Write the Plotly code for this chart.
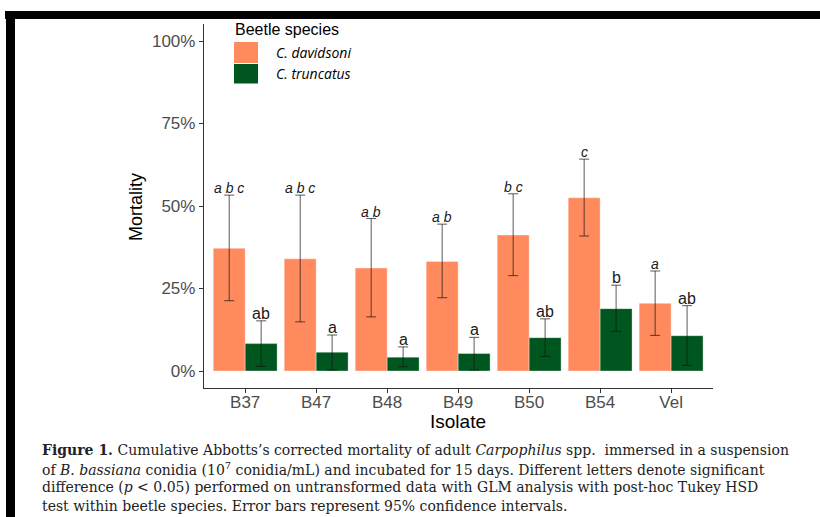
import plotly.graph_objects as go

W, H = 820, 517

isolates = ["B37", "B47", "B48", "B49", "B50", "B54", "Vel"]
davidsoni_mean = [37.2, 34.0, 31.2, 33.2, 41.2, 52.5, 20.5]
davidsoni_upper = [53.3, 53.3, 46.2, 44.5, 53.7, 64.2, 30.3]
davidsoni_lower = [21.3, 14.9, 16.4, 22.2, 28.9, 40.9, 10.8]
truncatus_mean = [8.3, 5.7, 4.2, 5.3, 10.1, 18.9, 10.7]
truncatus_upper = [15.2, 10.9, 7.3, 10.2, 15.8, 26.0, 19.8]
truncatus_lower = [1.4, 0.3, 1.3, 0.3, 4.4, 12.0, 1.7]
davidsoni_letters = ["abc", "abc", "ab", "ab", "bc", "c", "a"]
truncatus_letters = ["ab", "a", "a", "a", "ab", "b", "ab"]
y_ticks = [0, 25, 50, 75, 100]
y_tick_labels = ["0%", "25%", "50%", "75%", "100%"]

ORANGE = "#FF8A5E"
GREEN = "#00561F"
ERR = "rgba(20,20,20,0.7)"

xs = list(range(len(isolates)))

fig = go.Figure()
fig.add_trace(go.Bar(
    x=xs, y=davidsoni_mean, name="C. davidsoni",
    marker=dict(color=ORANGE, line=dict(color="rgba(255,255,255,0.45)", width=0.8)),
    error_y=dict(type="data", symmetric=False,
                 array=[u - m for u, m in zip(davidsoni_upper, davidsoni_mean)],
                 arrayminus=[m - l for m, l in zip(davidsoni_mean, davidsoni_lower)],
                 color=ERR, thickness=1, width=5),
))
fig.add_trace(go.Bar(
    x=xs, y=truncatus_mean, name="C. truncatus",
    marker=dict(color=GREEN, line=dict(color="rgba(255,255,255,0.45)", width=0.8)),
    error_y=dict(type="data", symmetric=False,
                 array=[u - m for u, m in zip(truncatus_upper, truncatus_mean)],
                 arrayminus=[m - l for m, l in zip(truncatus_mean, truncatus_lower)],
                 color=ERR, thickness=1, width=5),
))

def px_x(p):
    return p / W

def px_y(p):
    return 1 - p / H

annotations = []
for i in xs:
    annotations.append(dict(
        x=i - 0.225, y=davidsoni_upper[i], xref="x", yref="y",
        text=" ".join(davidsoni_letters[i]), showarrow=False,
        xanchor="center", yanchor="bottom", yshift=-3,
        font=dict(family="Liberation Sans", size=14, color="#1a1a1a", style="italic"),
    ))
    annotations.append(dict(
        x=i + 0.225, y=truncatus_upper[i], xref="x", yref="y",
        text=truncatus_letters[i], showarrow=False,
        xanchor="center", yanchor="bottom", yshift=-3,
        font=dict(family="Liberation Sans", size=16, color="#1a1a1a"),
    ))

def paper_text(x, y, text, font, xanchor="center", **kw):
    annotations.append(dict(x=px_x(x), y=px_y(y), xref="paper", yref="paper",
                            text=text, showarrow=False, xanchor=xanchor,
                            yanchor="middle", font=font, **kw))

# axis titles
paper_text(136, 207, "Mortality", dict(family="Liberation Sans", size=18, color="#000"),
           textangle=-90)
paper_text(458, 421, "Isolate", dict(family="Liberation Sans", size=19, color="#000"))

# legend
paper_text(233, 30, "Beetle species", dict(family="Liberation Sans", size=16, color="#000"),
           xanchor="left")
paper_text(274, 52.5, "C. davidsoni",
           dict(family="Open Sans", size=14, color="#000", style="italic"), xanchor="left")
paper_text(274, 73.5, "C. truncatus",
           dict(family="Open Sans", size=14, color="#000", style="italic"), xanchor="left")

# caption
caption_lines = [
    "<b>Figure 1.</b> Cumulative Abbotts\u2019s corrected mortality of adult <i>Carpophilus</i> spp.  immersed in a suspension",
    "of <i>B. bassiana</i> conidia (10<sup>7</sup> conidia/mL) and incubated for 15 days. Different letters denote significant",
    "difference (<i>p</i> &lt; 0.05) performed on untransformed data with GLM analysis with post-hoc Tukey HSD",
    "test within beetle species. Error bars represent 95% confidence intervals.",
]
for k, line in enumerate(caption_lines):
    paper_text(40, 450 + 18.5 * k, line,
               dict(family="DejaVu Serif", size=14, color="#222"), xanchor="left")

shapes = [
    dict(type="rect", xref="paper", yref="paper", x0=px_x(234), x1=px_x(258),
         y0=px_y(63), y1=px_y(42), fillcolor=ORANGE, line=dict(width=0)),
    dict(type="rect", xref="paper", yref="paper", x0=px_x(234), x1=px_x(258),
         y0=px_y(83.5), y1=px_y(64), fillcolor=GREEN, line=dict(width=0)),
    # frame borders of the source image
    dict(type="rect", xref="paper", yref="paper", x0=px_x(5), x1=1,
         y0=px_y(19), y1=px_y(11), fillcolor="#000", line=dict(width=0)),
    dict(type="rect", xref="paper", yref="paper", x0=px_x(6), x1=px_x(15),
         y0=0, y1=px_y(11), fillcolor="#000", line=dict(width=0)),
]

fig.update_layout(
    width=W, height=H,
    margin=dict(l=0, r=0, t=0, b=0),
    paper_bgcolor="white", plot_bgcolor="white",
    barmode="group", bargap=0.1, bargroupgap=0,
    showlegend=False,
    annotations=annotations, shapes=shapes,
    xaxis=dict(domain=[204 / W, 713 / W], range=[-0.58, 6.59],
               tickvals=xs, ticktext=isolates,
               showline=True, linecolor="#333", linewidth=1.3,
               ticks="outside", ticklen=4, tickcolor="#333", tickwidth=1,
               ticklabelstandoff=-6,
               showgrid=False, zeroline=False,
               tickfont=dict(family="Liberation Sans", size=17, color="#4D4D4D")),
    yaxis=dict(domain=[1 - 388 / H, 1 - 24 / H], range=[-5.15, 105.15],
               tickvals=y_ticks, ticktext=y_tick_labels,
               showline=True, linecolor="#333", linewidth=1.3,
               ticks="outside", ticklen=4, tickcolor="#333", tickwidth=1,
               showgrid=False, zeroline=False,
               tickfont=dict(family="Liberation Sans", size=17, color="#4D4D4D")),
)

fig.write_html("out.html", post_script="document.body.style.margin='0';",
               config={"displayModeBar": False})
